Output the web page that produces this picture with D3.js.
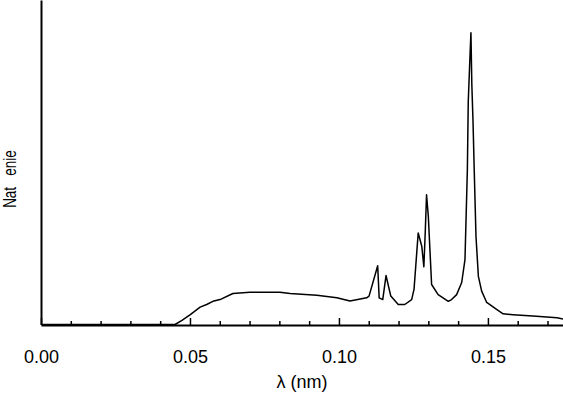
<!DOCTYPE html>
<html>
<head>
<meta charset="utf-8">
<script src="https://cdn.jsdelivr.net/npm/d3@7"></script>
<style>
  body { margin: 0; background: #fff; }
  svg { display: block; font-family: "Liberation Sans", Arial, sans-serif; }
</style>
</head>
<body>
<svg id="chart" width="563" height="396"></svg>
<script>
// wavelength (nm) and relative intensity
const lambda = [
  0, 0.045, 0.0473, 0.05, 0.0534, 0.0556, 0.0577, 0.0601, 0.0644, 0.0701,
  0.0802, 0.0836, 0.0926, 0.0993, 0.1037, 0.1093, 0.1101, 0.113, 0.1135, 0.1147,
  0.1158, 0.1174, 0.1199, 0.1221, 0.1244, 0.1252, 0.1266, 0.1278, 0.1285, 0.129,
  0.1294, 0.13, 0.1311, 0.1333, 0.1367, 0.1378, 0.1395, 0.1412, 0.1423, 0.1431,
  0.1434, 0.144, 0.1443, 0.1446, 0.145, 0.1454, 0.146, 0.1468, 0.1479, 0.1496,
  0.1529, 0.1551, 0.1584, 0.1651, 0.1732, 0.1752
];
const intensity = [
  0, 0, 0.014, 0.033, 0.06, 0.069, 0.08, 0.086, 0.107, 0.111,
  0.111, 0.107, 0.101, 0.092, 0.081, 0.092, 0.098, 0.203, 0.092, 0.086,
  0.169, 0.098, 0.069, 0.069, 0.086, 0.121, 0.316, 0.27, 0.199, 0.328,
  0.448, 0.373, 0.138, 0.103, 0.08, 0.086, 0.103, 0.145, 0.224, 0.534,
  0.769, 0.931, 1.007, 0.828, 0.7, 0.534, 0.303, 0.166, 0.115, 0.076,
  0.052, 0.037, 0.034, 0.029, 0.023, 0.019
];
const majorTicks = [0, 0.05, 0.10, 0.15];
const minorTicks = [0.01, 0.02, 0.03, 0.04, 0.06, 0.07, 0.08, 0.09, 0.11, 0.12, 0.13, 0.14, 0.16, 0.17];
const xTitle = "λ (nm)";
const yTitle = "Nat\u00a0\u00a0\u00a0enie";

const svg = d3.select("#chart");
const margin = { left: 41, right: 0, top: 0, bottom: 71 };
const W = 563, H = 396;

const x = d3.scaleLinear().domain([0, 0.1752]).range([margin.left, W - margin.right]);
const y = d3.scaleLinear().domain([0, 1.12]).range([H - margin.bottom - 0.5, margin.top]);

const data = lambda.map((l, i) => ({ l: l, v: intensity[i] }));

// spectrum curve
svg.append("path")
  .datum(data)
  .attr("fill", "none")
  .attr("stroke", "#000")
  .attr("stroke-width", 1.5)
  .attr("stroke-linejoin", "round")
  .attr("d", d3.line().x((d) => x(d.l)).y((d) => y(d.v)));

const baseY = H - margin.bottom;

// minor ticks
svg.append("g")
  .attr("transform", `translate(0,${baseY})`)
  .call(d3.axisBottom(x).tickValues(minorTicks).tickSize(-4).tickSizeOuter(0).tickFormat(""))
  .call((g) => g.select(".domain").remove())
  .call((g) => g.selectAll("line").attr("stroke-width", 1.5));

// major ticks + labels
const xAxis = svg.append("g")
  .attr("transform", `translate(0,${baseY})`)
  .call(d3.axisBottom(x).tickValues(majorTicks).tickSize(-7).tickSizeOuter(0)
    .tickPadding(25).tickFormat(d3.format(".2f")));
xAxis.select(".domain").attr("stroke-width", 2);
xAxis.selectAll("line").attr("stroke-width", 1.5);
xAxis.selectAll("text").attr("font-size", 18).attr("fill", "#000")
  .attr("font-family", "Liberation Sans, Arial, sans-serif");

// y axis line
const yAxis = svg.append("g")
  .attr("transform", `translate(${margin.left},0)`)
  .call(d3.axisLeft(y).tickValues([]).tickSizeOuter(0));
yAxis.select(".domain").attr("stroke-width", 2);

// titles
svg.append("text")
  .attr("x", (margin.left + W) / 2)
  .attr("y", 388)
  .attr("text-anchor", "middle")
  .attr("font-size", 18)
  .text(xTitle);

svg.append("text")
  .attr("transform", "translate(16,179) rotate(-90) scale(0.75,1)")
  .attr("text-anchor", "middle")
  .attr("font-size", 18)
  .text(yTitle);
</script>
</body>
</html>
